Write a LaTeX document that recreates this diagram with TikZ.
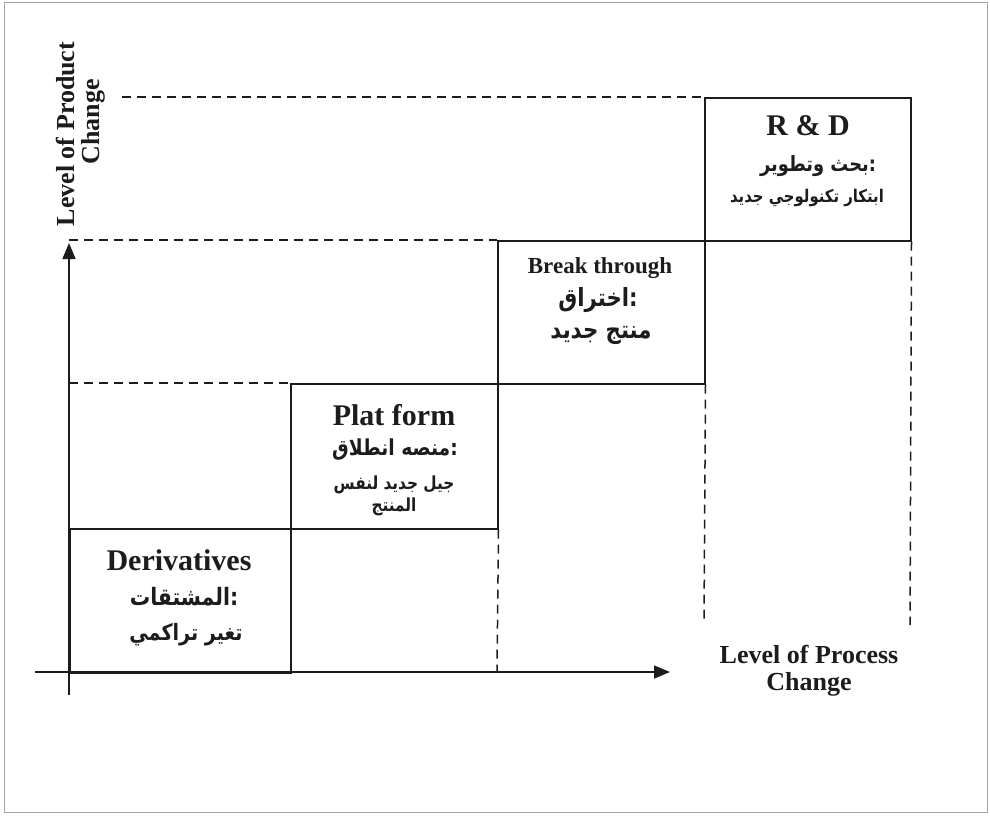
\documentclass[tikz,border=0pt]{standalone}
\usepackage{fontspec}
\setmainfont{Liberation Serif}
\newfontfamily\arfont[Script=Arabic, FakeStretch=0.85]{DejaVu Sans}
\TeXXeTstate=1
\newcommand\arw[1]{\hbox{\beginR #1\endR}}
\newcommand\arcolon{\hbox{:}}
\usetikzlibrary{arrows.meta}
\definecolor{ink}{HTML}{1C1C1C}
\begin{document}
\begin{tikzpicture}[x=1pt,y=-1pt,
  solidline/.style={line width=1.5pt, draw=ink},
  dashline/.style={line width=1.5pt, draw=ink, dash pattern=on 9pt off 6pt},
  box/.style={draw=ink, line width=1.5pt, anchor=north west, inner sep=0pt},
  en/.style={font=\bfseries\fontsize{#1}{#1}\selectfont, text=ink, inner sep=0pt, anchor=base},
  ar/.style={font=\arfont\bfseries\fontsize{#1}{#1}\selectfont, text=ink, inner sep=0pt},
  axisarrow/.style={solidline, -{Triangle[length=16pt,width=13pt]}}
]
\useasboundingbox (0,0) rectangle (990,815);
\draw[gray!70, line width=1pt] (4,2) rectangle (987,812);

% boxes
\node[box, minimum width=221, minimum height=144] (der) at (69,528) {};
\node[box, minimum width=207, minimum height=145] (plat) at (290,383) {};
\node[box, minimum width=207, minimum height=143] (brk) at (497,240) {};
\node[box, minimum width=206, minimum height=143] (rd) at (704,97) {};

% coordinates
\coordinate (ybot) at (69,695);
\coordinate (ytop) at (69,243);
\coordinate (xl) at (35,672);
\coordinate (xr) at (670,672);
\coordinate (d1) at (122,97);
\coordinate (d2) at (69,240);
\coordinate (d3) at (69,383);
\coordinate (v1) at (497,672);
\coordinate (v2) at (704,620);
\coordinate (v3) at (910,625);

% dashed guides
\draw[dashline] (d1) -- (rd.north west);
\draw[dashline] (d2) -- (brk.north west);
\draw[dashline] (d3) -- (plat.north west);
\draw[dashline] (plat.south east) -- (v1);
\draw[dashline] (brk.south east) -- (v2);
\draw[dashline] (rd.south east) -- (v3);

% axes
\draw[axisarrow] (ybot) -- (ytop);
\draw[axisarrow] (xl) -- (xr);

% axis labels
\node[en=26, rotate=90] (ylab1) at (74,134) {Level of Product};
\node[en=26, rotate=90] (ylab2) at (99,122) {Change};
\node[en=26] (xlab1) at (809,663) {Level of Process};
\node[en=26] (xlab2) at (809,690) {Change};

% R & D
\node[en=30] (rdt) at (808,135) {R \& D};
\node[ar=21] (rda) at (818,166) {\arw{بحث وتطوير}\arcolon};
\node[ar=17.5] (rdb) at (807,198) {\arw{ابتكار تكنولوجي جديد}};

% Break through
\node[en=23] (brt) at (600,273) {Break through};
\node[ar=25] (bra) at (598,300) {\arw{اختراق}\arcolon};
\node[ar=25] (brb) at (601,335) {\arw{منتج جديد}};

% Plat form
\node[en=30] (plt) at (394,425) {Plat form};
\node[ar=22] (pla) at (395,449) {\arw{منصه انطلاق}\arcolon};
\node[ar=18] (plb) at (394,485) {\arw{جيل جديد لنفس}};
\node[ar=18] (plc) at (394,507) {\arw{المنتج}};

% Derivatives
\node[en=30] (dert) at (179,570) {Derivatives};
\node[ar=24] (dera) at (184,597) {\arw{المشتقات}\arcolon};
\node[ar=22.5] (derb) at (186,635) {\arw{تغير تراكمي}};
\end{tikzpicture}
\end{document}
